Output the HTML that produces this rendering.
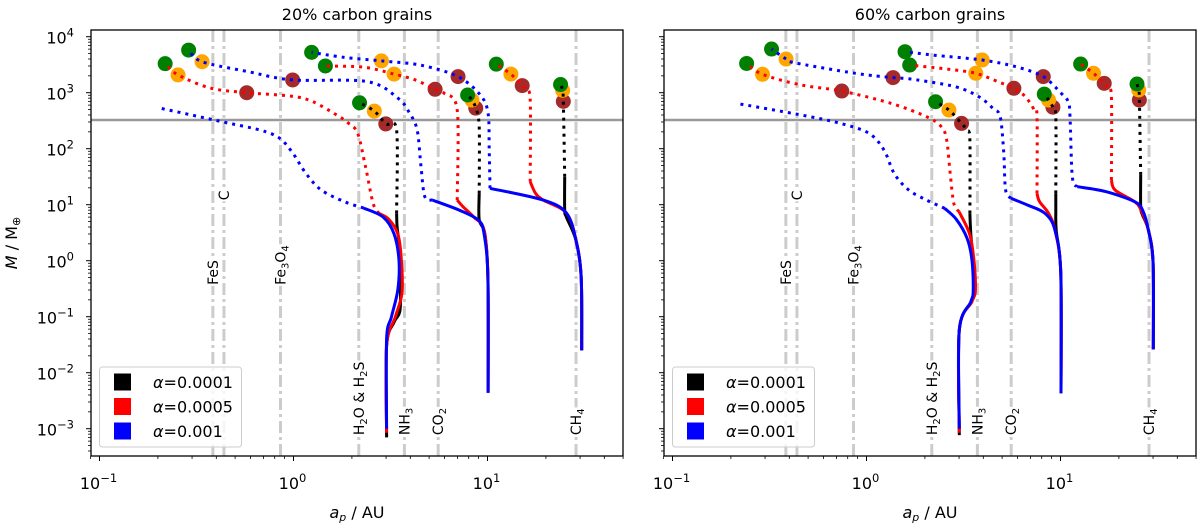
<!DOCTYPE html>
<html><head><meta charset="utf-8"><style>
html,body{margin:0;padding:0;background:#fff;}
svg{display:block;font-family:"DejaVu Sans","Liberation Sans",sans-serif;}
</style></head><body>
<svg id="chart" width="1200" height="525" viewBox="0 0 1200 525" xmlns="http://www.w3.org/2000/svg">
<rect width="1200" height="525" fill="#fff"/>
<g id="panels"></g>
</svg>
<script>
// ---------- data (a [AU], M [Earth masses]) ----------
const xTickExps = [-1, 0, 1];
const yTickExps = [-3, -2, -1, 0, 1, 2, 3, 4];
const iceLineNames = ["FeS", "C", "Fe3O4", "H2O & H2S", "NH3", "CO2", "CH4"];
const iceLineA = [0.384, 0.438, 0.857, 2.17, 3.73, 5.57, 28.6];
const iceLabelM = [0.37, 12, 0.37, 7.7e-4, 7.7e-4, 7.7e-4, 7.7e-4];
const jupiterMass = [325];
const legendLabels = ["0.0001", "0.0005", "0.001"];

// Left panel (20% carbon)
const L1k_s = [[3.02,7e-4],[3.02,0.03],[3.3,0.08],[3.54,0.13],[3.55,0.5],[3.5,2],[3.42,4],[3.4,7]];
const L1k_d = [[3.4,7],[3.4,215],[2.99,277],[2.61,470],[2.19,660]];
const L1k_c = [[2.99,277],[2.61,470],[2.19,660]];
const L1r_s = [[3.02,8.5e-4],[3.02,0.03],[3.35,0.1],[3.62,0.26],[3.6,1],[3.45,3],[3.1,5.5],[2.76,7]];
const L1r_d = [[2.76,7],[2.57,10.7],[2.35,48],[2.14,190],[1.91,290],[1.67,400],[1.25,700],[0.97,870],[0.574,1000],[0.373,1210],[0.254,2080],[0.218,3300]];
const L1r_c = [[0.574,1000],[0.254,2080],[0.218,3300]];
const L1b_s = [[3.02,1e-3],[3.02,0.04],[3.2,0.1],[3.45,0.3],[3.5,1],[3.3,3],[2.9,6],[2.3,8.7]];
const L1b_d = [[2.3,8.7],[1.83,11.3],[1.39,18.3],[1.16,36],[0.99,84],[0.846,155],[0.673,215],[0.428,303],[0.298,400],[0.207,527]];
const L1b_c = [];
const L2k_s = [[10.07,0.0044],[10.05,0.5],[9.7,3],[9.06,5.4],[9.06,15.8]];
const L2k_d = [[9.06,15.8],[9.06,247],[8.7,530],[8.31,740],[7.9,910]];
const L2k_c = [[8.7,530],[8.31,740],[7.9,910]];
const L2r_s = [[10.07,0.0044],[10.05,0.5],[9.6,3.5],[8.5,6],[7.48,9.2],[6.98,12.1]];
const L2r_d = [[6.98,12.1],[6.98,490],[5.97,985],[5.37,1150],[4.24,1690],[3.30,2150],[2.3,2850],[1.46,3000]];
const L2r_c = [[5.37,1150],[3.30,2150],[1.46,3000]];
const L2b_s = [[10.07,0.0044],[10.05,0.5],[9.6,3],[8.98,5.3],[7.15,8.0],[5.20,12.1]];
const L2b_d = [[5.20,12.1],[4.75,13.9],[4.54,48],[4.34,215],[3.96,435],[3.46,795],[2.40,1580],[0.99,1690],[0.589,2360],[0.338,3570],[0.288,5770]];
const L2b_c = [[0.99,1690],[0.338,3570],[0.288,5770]];
const L3k_s = [[30.6,0.025],[30.4,0.5],[28.6,2.3],[25.5,6],[25,8],[25,31.6]];
const L3k_d = [[25,31.6],[24.6,700],[24.4,1100],[23.8,1400]];
const L3k_c = [[24.6,700],[24.4,1100],[23.8,1400]];
const L3r_s = [[30.6,0.025],[30.4,0.5],[28.6,2.3],[25.5,7.1],[19.4,12.1],[17.7,15.9],[16.6,25.7]];
const L3r_d = [[16.6,25.7],[16.6,740],[15.8,1120],[15.1,1340],[13.2,2150],[11.1,3230]];
const L3r_c = [[15.1,1340],[13.2,2150],[11.1,3230]];
const L3b_s = [[30.6,0.025],[30.4,0.5],[28.6,2.3],[25.5,7.1],[19.4,12.1],[10.3,19.6]];
const L3b_d = [[10.3,19.6],[10.2,95],[10.07,427],[9.18,910],[7.05,1940],[4.54,3100],[2.84,3700],[1.83,4270],[1.24,5250]];
const L3b_c = [[7.05,1940],[2.84,3700],[1.24,5250]];

// Right panel (60% carbon)
const R1k_s = [[3.01,7.7e-4],[3.01,0.058],[3.49,0.185],[3.62,0.3],[3.55,0.9],[3.45,3],[3.41,7]];
const R1k_d = [[3.41,7],[3.41,143],[3.29,215],[3.09,283],[2.66,490],[2.27,690]];
const R1k_c = [[3.09,283],[2.66,490],[2.27,690]];
const R1r_s = [[3.01,8.5e-4],[3.01,0.058],[3.49,0.185],[3.64,0.3],[3.58,1],[3.4,3],[3.0,7.5]];
const R1r_d = [[3.0,7.5],[2.82,10.6],[2.70,36],[2.59,143],[2.43,247],[2.04,372],[1.34,645],[0.746,1070],[0.461,1370],[0.291,2130],[0.241,3330]];
const R1r_c = [[0.746,1070],[0.291,2130],[0.241,3330]];
const R1b_s = [[3.01,1e-3],[3.01,0.058],[3.45,0.185],[3.55,0.3],[3.5,1],[3.3,2.5],[2.9,5.5],[2.53,8.6]];
const R1b_d = [[2.53,8.6],[2.04,12.1],[1.65,18.3],[1.39,36],[1.23,95],[1.03,188],[0.736,283],[0.461,400],[0.214,645]];
const R1b_c = [];
const R2k_s = [[10.06,0.0043],[10.03,0.6],[9.5,3.5],[9.46,8],[9.46,15.9]];
const R2k_d = [[9.46,15.9],[9.46,372],[9.14,550],[8.68,740],[8.25,945]];
const R2k_c = [[9.14,550],[8.68,740],[8.25,945]];
const R2r_s = [[10.06,0.0043],[10.03,0.6],[9.37,3.5],[8.68,7],[7.8,11.3],[7.57,15.9]];
const R2r_d = [[7.57,15.9],[7.57,372],[7.33,490],[6.59,850],[5.75,1200],[4.79,1560],[3.66,2220],[2.64,2630],[1.67,3120]];
const R2r_c = [[5.75,1200],[3.66,2220],[1.67,3120]];
const R2b_s = [[10.06,0.0043],[10.03,0.6],[9.37,3.5],[8.32,7],[6.73,9.9],[5.56,13]];
const R2b_d = [[5.56,13],[5.21,18.3],[5.1,83],[4.89,372],[4.49,525],[3.79,850],[2.87,1280],[1.72,1740],[1.37,1860],[0.873,2220],[0.424,3440],[0.385,3990],[0.324,6020]];
const R2b_c = [[1.37,1860],[0.385,3990],[0.324,6020]];
const R3k_s = [[30.1,0.026],[30.0,0.9],[28.4,3.5],[26.5,6.5],[25.9,9],[25.9,34]];
const R3k_d = [[25.9,34],[25.5,740],[25.3,1120],[24.8,1430]];
const R3k_c = [[25.5,740],[25.3,1120],[24.8,1430]];
const R3r_s = [[30.1,0.026],[30.0,0.9],[28.4,3.5],[26,8],[24.1,11.3],[19.1,18.3],[18.3,27.6]];
const R3r_d = [[18.3,27.6],[18.3,850],[17.5,1200],[16.8,1470],[14.8,2220],[12.7,3250]];
const R3r_c = [[16.8,1470],[14.8,2220],[12.7,3250]];
const R3b_s = [[30.1,0.026],[30.0,0.9],[28.4,3.5],[26.5,8],[24.1,11.3],[17.2,17.1],[12.2,21]];
const R3b_d = [[12.2,21],[11.5,31.6],[11.2,372],[10.96,690],[10.07,980],[8.15,1940],[5.92,2900],[3.95,3830],[2.23,4680],[1.58,5390]];
const R3b_c = [[8.15,1940],[3.95,3830],[1.58,5390]];

const circleColors = ["#a52a2a", "#ffa500", "#008000"];
const panels = [
  {off: 0, title: "20% carbon grains", name: "left-panel", yLabels: true,
   groups: [[L1k_s,L1k_d,L1k_c,L1r_s,L1r_d,L1r_c,L1b_s,L1b_d,L1b_c],
            [L2k_s,L2k_d,L2k_c,L2r_s,L2r_d,L2r_c,L2b_s,L2b_d,L2b_c],
            [L3k_s,L3k_d,L3k_c,L3r_s,L3r_d,L3r_c,L3b_s,L3b_d,L3b_c]]},
  {off: 573, title: "60% carbon grains", name: "right-panel", yLabels: false,
   groups: [[R1k_s,R1k_d,R1k_c,R1r_s,R1r_d,R1r_c,R1b_s,R1b_d,R1b_c],
            [R2k_s,R2k_d,R2k_c,R2r_s,R2r_d,R2r_c,R2b_s,R2b_d,R2b_c],
            [R3k_s,R3k_d,R3k_c,R3r_s,R3r_d,R3r_c,R3b_s,R3b_d,R3b_c]]}
];
const lineColors = ["#000000", "#ff0000", "#0000ff"];

// ---------- drawing ----------
const NS = "http://www.w3.org/2000/svg";
const AX_L = 91, AX_R = 623, AX_T = 30, AX_B = 456;
function X(a, off) { return off + 293.5 + 194 * Math.log10(a); }
function Y(m) { return 260.7 - 56 * Math.log10(m); }
function mk(tag, attrs, parent) {
  const e = document.createElementNS(NS, tag);
  for (const k in attrs) e.setAttribute(k, attrs[k]);
  parent.appendChild(e);
  return e;
}
function smoothPath(p) {
  if (p.length < 3) return "M" + p.map(q => q.join(",")).join("L");
  let d = "M" + p[0][0].toFixed(1) + "," + p[0][1].toFixed(1);
  for (let i = 0; i < p.length - 1; i++) {
    const p0 = p[Math.max(0, i - 1)], p1 = p[i], p2 = p[i + 1], p3 = p[Math.min(p.length - 1, i + 2)];
    const t = 0.16;
    const c1 = [p1[0] + (p2[0] - p0[0]) * t, p1[1] + (p2[1] - p0[1]) * t];
    const c2 = [p2[0] - (p3[0] - p1[0]) * t, p2[1] - (p3[1] - p1[1]) * t];
    d += "C" + c1.map(v => v.toFixed(1)).join(",") + " " + c2.map(v => v.toFixed(1)).join(",") + " " + p2[0].toFixed(1) + "," + p2[1].toFixed(1);
  }
  return d;
}
function sup(textEl, base, exp) {
  textEl.appendChild(document.createTextNode(base));
  const ts = mk("tspan", {dy: "-7", "font-size": "11.5"}, textEl);
  ts.textContent = exp;
}
const root = document.getElementById("panels");

panels.forEach(P => {
  const off = P.off;
  const g = mk("g", {}, root);
  
  

  const tt = mk("text", {x: off + 357, y: 20, "text-anchor": "middle", "font-size": "16"}, g);
  
  
  tt.textContent = P.title;

  iceLineA.forEach((a, i) => {
    const x = X(a, off);
    const ln = mk("line", {x1: x, x2: x, y1: AX_T, y2: AX_B, stroke: "#cccccc", "stroke-width": 3, "stroke-dasharray": "12 4 3 4"}, g);
    
    
  });
  const hy = Y(jupiterMass[0]);
  const hl = mk("line", {x1: AX_L + off, x2: AX_R + off, y1: hy, y2: hy, stroke: "#999999", "stroke-width": 2.5}, g);
  
  

  iceLineA.forEach((a, i) => {
    const x = X(a, off), y = Y(iceLabelM[i]);
    const tg = mk("g", {transform: "translate(" + x.toFixed(1) + "," + y.toFixed(1) + ") rotate(-90)"}, g);
    
    
    const bg = mk("rect", {fill: "#fff"}, tg);
    const t = mk("text", {x: 0, y: 5, "font-size": "14"}, tg);
    const parts = iceLineNames[i].split(/(\d)/);
    parts.forEach(s => {
      if (/^\d$/.test(s)) { const ts = mk("tspan", {"font-size": "10", dy: "3"}, t); ts.textContent = s; const r = mk("tspan", {dy: "-3"}, t); r.textContent = "\u200b"; }
      else if (s) { const ts = mk("tspan", {}, t); ts.textContent = s; }
    });
    const bb = t.getBBox();
    bg.setAttribute("x", bb.x - 1); bg.setAttribute("y", bb.y); bg.setAttribute("width", bb.width + 2); bg.setAttribute("height", bb.height);
  });

  P.groups.forEach(G => {
    [2, 5, 8].forEach(ci => {
      G[ci].forEach((pt, k) => {
        const c = mk("circle", {cx: X(pt[0], off), cy: Y(pt[1]), r: 7.5, fill: circleColors[k]}, g);
        
        
      });
    });
  });
  [0, 1, 2].forEach(ai => {
    P.groups.forEach(G => {
      const sol = G[ai * 3], dot = G[ai * 3 + 1];
      const ps = mk("path", {d: smoothPath(sol.map(q => [X(q[0], off), Y(q[1])])), fill: "none", stroke: lineColors[ai], "stroke-width": 3, "stroke-linejoin": "round"}, g);
      
      
      const pd = mk("path", {d: smoothPath(dot.map(q => [X(q[0], off), Y(q[1])])), fill: "none", stroke: lineColors[ai], "stroke-width": 3, "stroke-dasharray": "3 5"}, g);
      
      
    });
  });

  const fr = mk("rect", {x: AX_L + off, y: AX_T, width: AX_R - AX_L, height: AX_B - AX_T, fill: "none", stroke: "#000", "stroke-width": 1.3}, g);
  
  

  for (let e = -2; e <= 1; e++) {
    for (let m = 1; m <= 9; m++) {
      const v = m * Math.pow(10, e);
      const x = X(v, off);
      if (x < AX_L + off - 0.5 || x > AX_R + off + 0.5) continue;
      const len = m === 1 ? 5 : 3;
      const tk = mk("line", {x1: x, x2: x, y1: AX_B, y2: AX_B + len, stroke: "#000", "stroke-width": m === 1 ? 1 : 0.8}, g);
      
      
    }
  }
  xTickExps.forEach(e => {
    const t = mk("text", {x: X(Math.pow(10, e), off) - 1, y: 489, "text-anchor": "middle", "font-size": "16"}, g);
    
    
    sup(t, "10", e < 0 ? "\u2212" + (-e) : String(e));
  });
  for (let e = -4; e <= 4; e++) {
    for (let m = 1; m <= 9; m++) {
      const v = m * Math.pow(10, e);
      const y = Y(v);
      if (y < AX_T - 0.5 || y > AX_B + 0.5) continue;
      const len = m === 1 ? 5 : 3;
      const tk = mk("line", {x1: AX_L + off - len, x2: AX_L + off, y1: y, y2: y, stroke: "#000", "stroke-width": m === 1 ? 1 : 0.8}, g);
      
      
    }
  }
  if (P.yLabels) {
    yTickExps.forEach(e => {
      const t = mk("text", {x: 74, y: Y(Math.pow(10, e)) + 7, "text-anchor": "end", "font-size": "16"}, g);
      
      
      sup(t, "10", e < 0 ? "\u2212" + (-e) : String(e));
    });
    const yl = mk("text", {transform: "translate(17,243) rotate(-90)", "text-anchor": "middle", "font-size": "16"}, g);
    
    
    const i1 = mk("tspan", {"font-style": "italic"}, yl); i1.textContent = "M";
    const i2 = mk("tspan", {}, yl); i2.textContent = " / M";
    const i3 = mk("tspan", {"font-size": "11", dy: "3"}, yl); i3.textContent = "\u2295";
  }
  const xl = mk("text", {x: off + 357, y: 518, "text-anchor": "middle", "font-size": "16"}, g);
  
  
  const a1 = mk("tspan", {"font-style": "italic"}, xl); a1.textContent = "a";
  const a2 = mk("tspan", {"font-style": "italic", "font-size": "11", dy: "3"}, xl); a2.textContent = "p";
  const a3 = mk("tspan", {dy: "-3"}, xl); a3.textContent = " / AU";

  const lg = mk("g", {}, g);
  
  
  mk("rect", {x: 99.5 + off, y: 367, width: 142, height: 80, rx: 3, fill: "#fff", "fill-opacity": 0.8, stroke: "#cccccc", "stroke-width": 1}, lg);
  legendLabels.forEach((lab, i) => {
    const cy = 382 + i * 24.5;
    const sw = mk("rect", {x: 114 + off, y: cy - 8.5, width: 17, height: 17, fill: lineColors[i]}, lg);
    
    
    const t = mk("text", {x: 153 + off, y: cy + 6, "font-size": "16"}, lg);
    
    
    const s1 = mk("tspan", {"font-style": "italic"}, t); s1.textContent = "\u03b1";
    const s2 = mk("tspan", {}, t); s2.textContent = "=" + lab;
  });
});
</script>
</body></html>
